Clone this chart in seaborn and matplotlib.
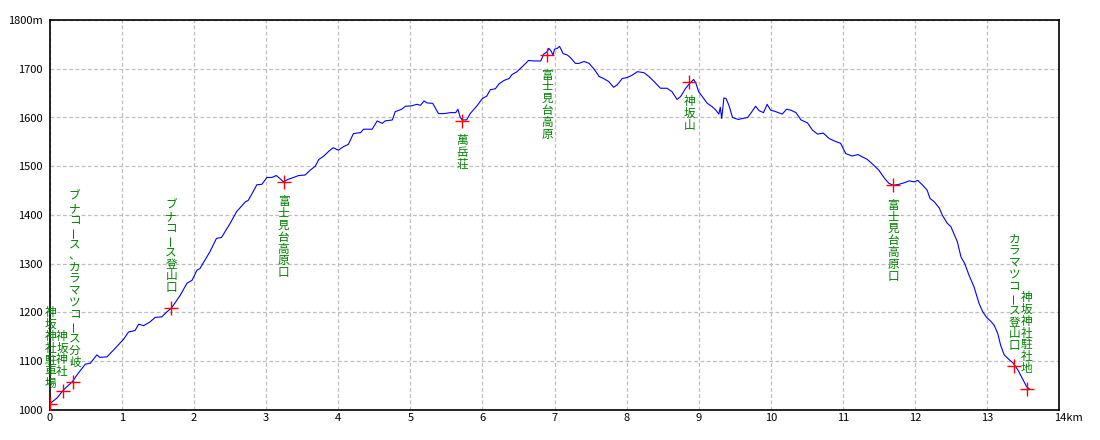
import numpy as np
import pandas as pd
import seaborn as sns
import matplotlib.pyplot as plt
from matplotlib.transforms import ScaledTranslation

# elevation profile (km, m)
dist_km = [
    0.00, 0.10, 0.185, 0.31, 0.39, 0.49, 0.56, 0.65, 0.69, 0.79, 0.90,
    1.02, 1.09, 1.18, 1.23, 1.30, 1.39, 1.46, 1.55, 1.62, 1.69, 1.81,
    1.90, 1.97, 2.04, 2.08, 2.22, 2.31, 2.38, 2.50, 2.59, 2.71, 2.75,
    2.80, 2.87, 2.94, 3.01, 3.08, 3.14, 3.18, 3.24, 3.30, 3.38, 3.45,
    3.54, 3.61, 3.68, 3.73, 3.80, 3.87, 3.93, 4.00, 4.07, 4.14, 4.21,
    4.31, 4.35, 4.47, 4.54, 4.61, 4.65, 4.75, 4.79, 4.88, 4.93, 5.02,
    5.09, 5.14, 5.19, 5.23, 5.31, 5.39, 5.46, 5.56, 5.63, 5.66, 5.69,
    5.72, 5.78, 5.83, 5.93, 6.00, 6.06, 6.11, 6.18, 6.23, 6.30, 6.37,
    6.41, 6.48, 6.53, 6.60, 6.64, 6.71, 6.81, 6.85, 6.90, 6.92, 6.95,
    6.98, 7.00, 7.04, 7.07, 7.12, 7.18, 7.22, 7.29, 7.34, 7.41, 7.48,
    7.55, 7.62, 7.68, 7.75, 7.82, 7.87, 7.94, 8.01, 8.08, 8.15, 8.24,
    8.31, 8.38, 8.47, 8.56, 8.63, 8.70, 8.75, 8.82, 8.87, 8.93, 8.96,
    9.00, 9.05, 9.12, 9.19, 9.24, 9.28, 9.30, 9.32, 9.35, 9.38, 9.42,
    9.47, 9.55, 9.61, 9.68, 9.72, 9.79, 9.84, 9.90, 9.95, 10.00, 10.07,
    10.16, 10.22, 10.28, 10.35, 10.42, 10.51, 10.58, 10.65, 10.73, 10.81,
    10.88, 10.97, 11.04, 11.13, 11.21, 11.34, 11.43, 11.50, 11.58, 11.64,
    11.70, 11.78, 11.85, 11.92, 11.99, 12.04, 12.11, 12.17, 12.21, 12.27,
    12.34, 12.38, 12.45, 12.50, 12.55, 12.59, 12.64, 12.69, 12.75, 12.82,
    12.89, 12.94, 12.99, 13.06, 13.10, 13.15, 13.19, 13.24, 13.31, 13.36,
    13.43, 13.50, 13.55, 13.60,
]
elev_m = [
    1013, 1025, 1041, 1058, 1075, 1094, 1096, 1113, 1108, 1109, 1126,
    1145, 1160, 1163, 1176, 1173, 1181, 1190, 1191, 1201, 1210, 1236,
    1260, 1266, 1287, 1290, 1325, 1352, 1354, 1383, 1407, 1427, 1430,
    1443, 1462, 1463, 1477, 1477, 1481, 1476, 1468, 1473, 1477, 1481,
    1482, 1492, 1500, 1514, 1521, 1531, 1538, 1533, 1540, 1545, 1567,
    1569, 1576, 1576, 1593, 1588, 1593, 1595, 1612, 1617, 1623, 1624,
    1627, 1625, 1634, 1630, 1629, 1608, 1608, 1610, 1610, 1617, 1601,
    1595, 1595, 1608, 1625, 1639, 1644, 1657, 1659, 1669, 1676, 1680,
    1688, 1694, 1701, 1711, 1717, 1716, 1716, 1730, 1735, 1742, 1737,
    1728, 1740, 1742, 1746, 1731, 1728, 1723, 1711, 1711, 1715, 1711,
    1699, 1684, 1680, 1674, 1662, 1667, 1680, 1682, 1687, 1694, 1692,
    1684, 1674, 1660, 1660, 1653, 1637, 1643, 1660, 1669, 1678, 1671,
    1653, 1643, 1629, 1622, 1615, 1607, 1621, 1598, 1640, 1639, 1625,
    1600, 1596, 1598, 1600, 1608, 1623, 1614, 1610, 1627, 1615, 1612,
    1607, 1617, 1615, 1610, 1595, 1589, 1574, 1566, 1568, 1557,
    1552, 1547, 1526, 1521, 1524, 1514, 1502, 1492, 1475, 1465,
    1461, 1463, 1466, 1470, 1468, 1471, 1461, 1451, 1434, 1427,
    1414, 1400, 1383, 1376, 1359, 1345, 1314, 1301, 1277, 1253,
    1219, 1202, 1191, 1181, 1174, 1157, 1133, 1113, 1103, 1097,
    1082, 1062, 1048, 1042,
]

# waypoints
wp_km = [0.0, 0.18, 0.32, 1.68, 3.24, 5.72, 6.90, 8.87, 11.70, 13.38, 13.55]
wp_elev = [1013, 1038, 1058, 1210, 1468, 1593, 1728, 1673, 1461, 1091, 1044]
wp_names = [
    "神坂神社駐車場", "神坂神社", "ブナコース、カラマツコース分岐",
    "ブナコース登山口", "富士見台高原口", "萬岳荘", "富士見台高原",
    "神坂山", "富士見台高原口", "カラマツコース登山口", "神坂神社駐社地",
]
wp_above = [True, True, True, True, False, False, False, False, False,
            True, True]

x_ticks = list(range(15))
x_labels = [str(k) for k in range(14)] + ["14km"]
y_ticks = list(range(1000, 1801, 100))
y_labels = [str(v) for v in range(1000, 1800, 100)] + ["1800m"]

sns.set_style("white")
plt.rcParams["font.family"] = ["Noto Sans CJK JP", "DejaVu Sans"]

fig = plt.figure(figsize=(11, 4.4), dpi=100)
ax = fig.add_axes([50 / 1100, 30 / 440, 1009 / 1100, 390 / 440])

profile = pd.DataFrame({"km": dist_km, "elev": elev_m})
sns.lineplot(data=profile, x="km", y="elev", ax=ax, color="#0000ff",
             lw=0.8, sort=False, estimator=None)
sns.scatterplot(x=wp_km, y=wp_elev, ax=ax, marker="+", color="#ff0000",
                s=100, linewidth=1.0, zorder=4)

# vertical labels, one character at a time
px = 0.72  # points per pixel at 100 dpi
pitch = 11.8
nudge = {0: 0.5, 1: -1.0, 2: 1.5}  # crowded labels near the start, in px
for j, (km, el, name, above) in enumerate(
        zip(wp_km, wp_elev, wp_names, wp_above)):
    n = len(name)
    dx = nudge.get(j, 0)
    for i, ch in enumerate(name):
        if above:
            dy = 20 + (n - 1 - i) * pitch
        else:
            dy = -(20 + i * pitch)
        ax.annotate(ch, xy=(km, el), xytext=(dx * px, dy * px),
                    textcoords="offset points", ha="center", va="center",
                    rotation=90 if ch == "ー" else 0,
                    color="#008000", fontsize=8.4, zorder=5)

ax.set_xlim(0, 14)
ax.set_ylim(1000, 1800)
ax.set_xticks(x_ticks)
ax.set_xticklabels(x_labels)
ax.set_yticks(y_ticks)
ax.set_yticklabels(y_labels)
ax.tick_params(length=0, labelsize=8, colors="black")
ax.tick_params(axis="x", pad=2)
ax.tick_params(axis="y", pad=5)
last = ax.get_xticklabels()[-1]
last.set_horizontalalignment("left")
last.set_transform(last.get_transform()
                   + ScaledTranslation(-5 / 100, 0, fig.dpi_scale_trans))
ax.set_xlabel("")
ax.set_ylabel("")

ax.grid(True, color="#bebebe", linestyle=(0, (3, 2)), linewidth=0.9)
for side in ["top", "bottom", "left", "right"]:
    ax.spines[side].set_visible(True)
    ax.spines[side].set_color("black")
    ax.spines[side].set_linewidth(1.2)

fig.savefig("out.png", dpi=100)
